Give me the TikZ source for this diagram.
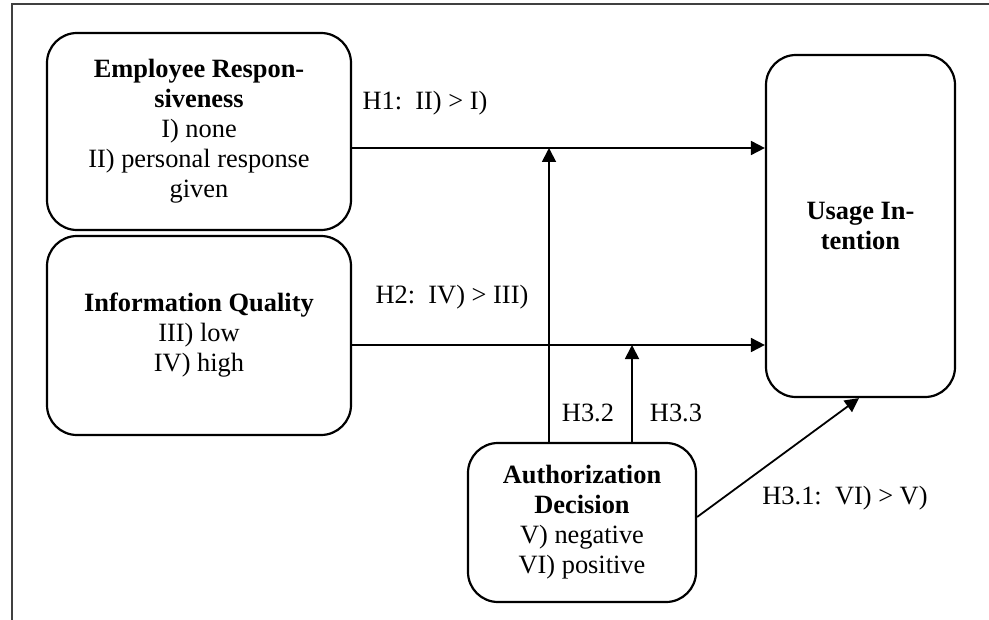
\documentclass[tikz,border=0pt]{standalone}
\usepackage{fontspec}
\setmainfont{Liberation Serif}
\usetikzlibrary{arrows.meta}
\begin{document}
\begin{tikzpicture}[x=0.5pt,y=-0.5pt,
  box/.style={draw=black,line width=1.1pt,rounded corners=15pt,inner sep=0pt,align=center,
    font=\fontsize{13.2}{15}\selectfont},
  arr/.style={draw=black,line width=0.9pt,-{Triangle[length=7pt,width=7pt]}},
  lbl/.style={inner sep=0pt,font=\fontsize{13.2}{15}\selectfont}]
\useasboundingbox (0,0) rectangle (989,620);
% frame
\draw[black!75,line width=0.6pt] (12,620) -- (12,4) -- (989,4);
% boxes
\node[box,minimum width=152pt,minimum height=98.5pt] (ER) at (199,131.5)
  {\textbf{Employee Respon-}\\\textbf{siveness}\\I) none\\II) personal response\\given};
\node[box,minimum width=152pt,minimum height=99.5pt] (IQ) at (199,335.5)
  {\textbf{Information Quality}\\III) low\\IV) high};
\node[box,minimum width=94.5pt,minimum height=171pt] (UI) at (860.5,226)
  {\textbf{Usage In-}\\\textbf{tention}};
\node[box,minimum width=114pt,minimum height=79.5pt] (AD) at (582,522.5)
  {\textbf{Authorization}\\\textbf{Decision}\\V) negative\\VI) positive};
% helper coordinates
\coordinate (h1) at (549,148);
\coordinate (h2) at (632,345);
\coordinate (d1) at (696,517);
\coordinate (d2) at (859,397);
% arrows
\draw[arr] (ER.east |- h1) -- (UI.west |- h1);
\draw[arr] (IQ.east |- h2) -- (UI.west |- h2);
\draw[arr] (AD.north -| h1) -- (h1);
\draw[arr] (AD.north -| h2) -- (h2);
\draw[arr] (AD.east |- d1) -- (UI.south -| d2);
% labels
\node[lbl] (l1) at (425,103) {H1:\ \ II) > I)};
\node[lbl] (l2) at (452,297) {H2:\ \ IV) > III)};
\node[lbl] (l32) at (588,413) {H3.2};
\node[lbl] (l33) at (676,413) {H3.3};
\node[lbl] (l31) at (845,498) {H3.1:\ \ VI) > V)};
\end{tikzpicture}
\end{document}
